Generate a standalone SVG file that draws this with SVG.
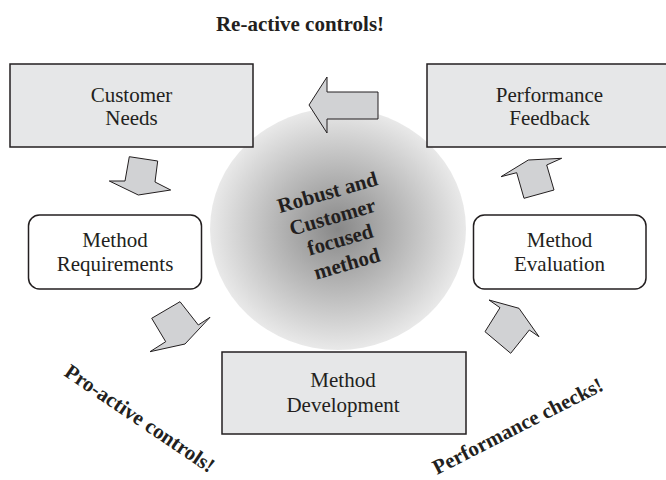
<svg xmlns="http://www.w3.org/2000/svg" width="666" height="480" viewBox="0 0 666 480">
  <style>
    .box { fill: #e6e7e8; stroke: #231f20; stroke-width: 1.5; }
    .rbox { fill: #ffffff; stroke: #231f20; stroke-width: 1.5; }
    .arrow { fill: #d1d2d4; stroke: #231f20; stroke-width: 1; stroke-linejoin: miter; }
    .label { font-family: "Liberation Serif", "Times New Roman", serif; font-size: 21px; fill: #231f20; text-anchor: middle; }
    .bold { font-family: "Liberation Serif", "Times New Roman", serif; font-size: 21px; font-weight: bold; fill: #231f20; }
  </style>
  <defs>
    <radialGradient id="hub" cx="0.5" cy="0.5" r="0.5">
      <stop offset="0" stop-color="#888888"/>
      <stop offset="0.55" stop-color="#bdbdbd"/>
      <stop offset="1" stop-color="#e9e9e9"/>
    </radialGradient>
  </defs>

  <rect width="666" height="480" fill="#ffffff"/>

  <!-- central hub -->
  <g id="hub-node">
    <ellipse cx="338" cy="229" rx="128" ry="121" fill="url(#hub)"/>
    <g transform="translate(337,229) rotate(-16)" class="bold" text-anchor="middle">
      <text x="1" y="-31">Robust and</text>
      <text x="-1" y="-6">Customer</text>
      <text x="0" y="18">focused</text>
      <text x="0" y="43">method</text>
    </g>
  </g>

  <!-- block arrows between stages -->
  <g id="connectors">
    <polygon class="arrow" points="309,105 327,77 327,92 378,92 378,119 327,119 327,133"/>
    <polygon class="arrow" points="129.3,156.7 157.7,161 155,182 170.7,190 138.3,195 109.3,181 125,181"/>
    <polygon class="arrow" points="180,301.7 151.7,318.3 165.7,341.7 150,351.7 185,344 210,317.3 198.3,325"/>
    <polygon class="arrow" points="489,300 519,308.3 539,336.7 529.3,330 510.7,353.3 485,331.7 500,307.7"/>
    <polygon class="arrow" points="501,176.7 528.3,160 561.7,158.3 546.7,165 554,190 524,198.3 516.7,172.7"/>
  </g>

  <g id="customer-needs">
    <rect class="box" x="10" y="64" width="243" height="83"/>
    <text class="label" x="131.5" y="102">Customer</text>
    <text class="label" x="131.5" y="125">Needs</text>
  </g>

  <g id="performance-feedback">
    <rect class="box" x="427" y="64" width="245" height="83"/>
    <text class="label" x="549.5" y="102">Performance</text>
    <text class="label" x="549.5" y="125">Feedback</text>
  </g>

  <g id="method-requirements">
    <rect class="rbox" x="28.5" y="215" width="173" height="74" rx="11" ry="11"/>
    <text class="label" x="115" y="247">Method</text>
    <text class="label" x="115" y="271">Requirements</text>
  </g>

  <g id="method-evaluation">
    <rect class="rbox" x="473.5" y="215" width="172.5" height="74" rx="11" ry="11"/>
    <text class="label" x="559.5" y="247">Method</text>
    <text class="label" x="559.5" y="271">Evaluation</text>
  </g>

  <g id="method-development">
    <rect class="box" x="222" y="352" width="244" height="82"/>
    <text class="label" x="343" y="387">Method</text>
    <text class="label" x="343" y="412">Development</text>
  </g>

  <!-- annotations -->
  <text class="bold" x="300" y="31" text-anchor="middle">Re-active controls!</text>
  <text class="bold" transform="translate(63,375) rotate(34)" font-size="20">Pro-active controls!</text>
  <text class="bold" transform="translate(437,475) rotate(-27)">Performance checks!</text>
</svg>
